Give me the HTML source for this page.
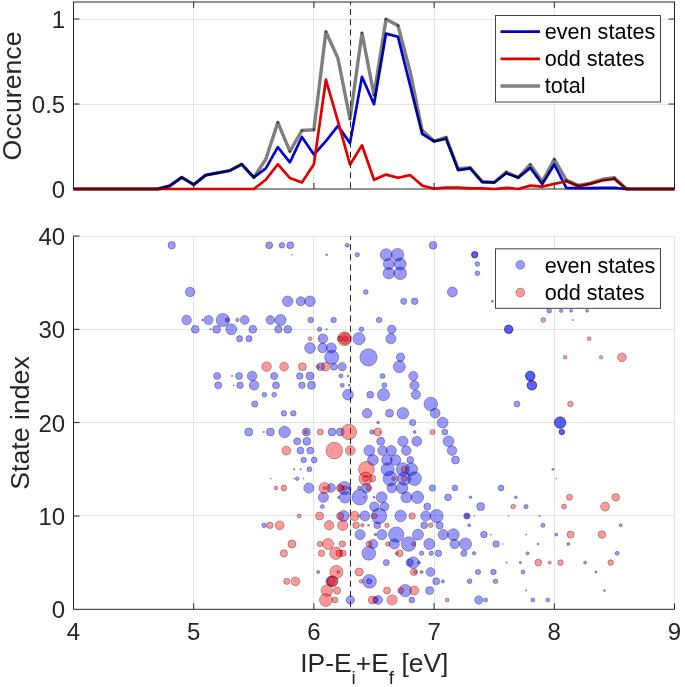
<!DOCTYPE html>
<html><head><meta charset="utf-8"><style>
html,body{margin:0;padding:0;background:#fff;}
svg{display:block;will-change:transform;}
text{font-family:"Liberation Sans",sans-serif;fill:#262626;}
.tk{font-size:24px;}
.lb{font-size:26.7px;}
.lg{font-size:21.6px;fill:#000;}
</style></head><body>
<svg width="685" height="687" viewBox="0 0 685 687">
<rect width="685" height="687" fill="#fff"/>
<line x1="193.5" y1="2.0" x2="193.5" y2="189.0" stroke="#e4e4e4" stroke-width="1"/>
<line x1="313.5" y1="2.0" x2="313.5" y2="189.0" stroke="#e4e4e4" stroke-width="1"/>
<line x1="434.5" y1="2.0" x2="434.5" y2="189.0" stroke="#e4e4e4" stroke-width="1"/>
<line x1="554.5" y1="2.0" x2="554.5" y2="189.0" stroke="#e4e4e4" stroke-width="1"/>
<line x1="73.5" y1="104.5" x2="674.5" y2="104.5" stroke="#e4e4e4" stroke-width="1"/>
<line x1="73.5" y1="19.5" x2="674.5" y2="19.5" stroke="#e4e4e4" stroke-width="1"/>
<rect x="73.5" y="2.0" width="601.0" height="187.0" fill="none" stroke="#262626" stroke-width="1"/>
<polyline points="73.5,189.0 85.5,189.0 97.5,189.0 109.6,189.0 121.6,189.0 133.6,189.0 145.6,189.0 157.6,189.0 169.7,185.9 181.7,177.3 193.7,184.6 205.7,175.1 217.7,172.8 229.8,170.6 241.8,164.3 253.8,177.3 265.8,168.4 277.8,147.2 289.9,162.3 301.9,137.0 313.9,154.5 325.9,141.1 337.9,125.9 350.0,143.1 362.0,76.8 374.0,104.2 386.0,33.6 398.0,36.8 410.1,85.3 422.1,133.8 434.1,141.4 446.1,138.7 458.1,170.1 470.2,168.3 482.2,182.2 494.2,182.5 506.2,173.2 518.2,177.6 530.3,167.9 542.3,184.1 554.3,164.5 566.3,187.8 578.3,188.2 590.4,188.2 602.4,187.8 614.4,187.8 626.4,189.0 638.4,189.0 650.5,189.0 662.5,189.0 674.5,189.0" fill="none" stroke="#0000d0" stroke-width="2.7" stroke-linejoin="round"/>
<polyline points="73.5,189.0 85.5,189.0 97.5,189.0 109.6,189.0 121.6,189.0 133.6,189.0 145.6,189.0 157.6,189.0 169.7,189.0 181.7,189.0 193.7,189.0 205.7,189.0 217.7,189.0 229.8,189.0 241.8,189.0 253.8,189.0 265.8,179.8 277.8,164.2 289.9,178.1 301.9,182.5 313.9,164.2 325.9,79.7 337.9,121.2 350.0,164.7 362.0,145.3 374.0,179.8 386.0,174.6 398.0,177.8 410.1,175.1 422.1,185.6 434.1,188.7 446.1,187.6 458.1,187.6 470.2,188.3 482.2,188.3 494.2,189.0 506.2,187.8 518.2,189.0 530.3,185.6 542.3,186.6 554.3,183.9 566.3,181.2 578.3,186.3 590.4,183.9 602.4,180.5 614.4,179.0 626.4,189.0 638.4,189.0 650.5,189.0 662.5,189.0 674.5,189.0" fill="none" stroke="#e00000" stroke-width="2.7" stroke-linejoin="round"/>
<polyline points="73.5,189.0 85.5,189.0 97.5,189.0 109.6,189.0 121.6,189.0 133.6,189.0 145.6,189.0 157.6,189.0 169.7,185.9 181.7,177.3 193.7,184.6 205.7,175.1 217.7,172.8 229.8,170.6 241.8,164.3 253.8,177.3 265.8,159.2 277.8,122.4 289.9,151.4 301.9,130.5 313.9,129.7 325.9,31.8 337.9,58.1 350.0,118.8 362.0,33.1 374.0,95.0 386.0,19.2 398.0,25.6 410.1,71.4 422.1,130.3 434.1,141.1 446.1,137.3 458.1,168.8 470.2,167.6 482.2,181.5 494.2,182.5 506.2,172.0 518.2,177.6 530.3,164.5 542.3,181.7 554.3,159.4 566.3,180.0 578.3,185.4 590.4,183.1 602.4,179.3 614.4,177.8 626.4,189.0 638.4,189.0 650.5,189.0 662.5,189.0 674.5,189.0" fill="none" stroke="#000" stroke-opacity="0.5" stroke-width="3.4" stroke-linejoin="round"/>
<circle cx="181.7" cy="177.3" r="1.36" fill="#000" fill-opacity="0.45"/>
<circle cx="193.7" cy="184.6" r="1.36" fill="#000" fill-opacity="0.45"/>
<circle cx="241.8" cy="164.3" r="1.36" fill="#000" fill-opacity="0.45"/>
<circle cx="253.8" cy="177.3" r="1.36" fill="#000" fill-opacity="0.45"/>
<circle cx="277.8" cy="122.4" r="1.36" fill="#000" fill-opacity="0.45"/>
<circle cx="289.9" cy="151.4" r="1.36" fill="#000" fill-opacity="0.45"/>
<circle cx="301.9" cy="130.5" r="1.36" fill="#000" fill-opacity="0.45"/>
<circle cx="313.9" cy="129.7" r="1.36" fill="#000" fill-opacity="0.45"/>
<circle cx="325.9" cy="31.8" r="1.36" fill="#000" fill-opacity="0.45"/>
<circle cx="350.0" cy="118.8" r="1.36" fill="#000" fill-opacity="0.45"/>
<circle cx="362.0" cy="33.1" r="1.36" fill="#000" fill-opacity="0.45"/>
<circle cx="374.0" cy="95.0" r="1.36" fill="#000" fill-opacity="0.45"/>
<circle cx="386.0" cy="19.2" r="1.36" fill="#000" fill-opacity="0.45"/>
<circle cx="398.0" cy="25.6" r="1.36" fill="#000" fill-opacity="0.45"/>
<circle cx="422.1" cy="130.3" r="1.36" fill="#000" fill-opacity="0.45"/>
<circle cx="434.1" cy="141.1" r="1.36" fill="#000" fill-opacity="0.45"/>
<circle cx="446.1" cy="137.3" r="1.36" fill="#000" fill-opacity="0.45"/>
<circle cx="458.1" cy="168.8" r="1.36" fill="#000" fill-opacity="0.45"/>
<circle cx="470.2" cy="167.6" r="1.36" fill="#000" fill-opacity="0.45"/>
<circle cx="482.2" cy="181.5" r="1.36" fill="#000" fill-opacity="0.45"/>
<circle cx="494.2" cy="182.5" r="1.36" fill="#000" fill-opacity="0.45"/>
<circle cx="506.2" cy="172.0" r="1.36" fill="#000" fill-opacity="0.45"/>
<circle cx="518.2" cy="177.6" r="1.36" fill="#000" fill-opacity="0.45"/>
<circle cx="530.3" cy="164.5" r="1.36" fill="#000" fill-opacity="0.45"/>
<circle cx="542.3" cy="181.7" r="1.36" fill="#000" fill-opacity="0.45"/>
<circle cx="554.3" cy="159.4" r="1.36" fill="#000" fill-opacity="0.45"/>
<circle cx="566.3" cy="180.0" r="1.36" fill="#000" fill-opacity="0.45"/>
<circle cx="578.3" cy="185.4" r="1.36" fill="#000" fill-opacity="0.45"/>
<circle cx="614.4" cy="177.8" r="1.36" fill="#000" fill-opacity="0.45"/>
<circle cx="626.4" cy="189.0" r="1.36" fill="#000" fill-opacity="0.45"/>
<line x1="350.5" y1="2.0" x2="350.5" y2="189.0" stroke="#262626" stroke-width="1" stroke-dasharray="6.1,4.1" stroke-dashoffset="3.2"/>
<line x1="193.7" y1="189.0" x2="193.7" y2="183.0" stroke="#262626" stroke-width="1"/>
<line x1="193.7" y1="2.0" x2="193.7" y2="8.0" stroke="#262626" stroke-width="1"/>
<line x1="313.9" y1="189.0" x2="313.9" y2="183.0" stroke="#262626" stroke-width="1"/>
<line x1="313.9" y1="2.0" x2="313.9" y2="8.0" stroke="#262626" stroke-width="1"/>
<line x1="434.1" y1="189.0" x2="434.1" y2="183.0" stroke="#262626" stroke-width="1"/>
<line x1="434.1" y1="2.0" x2="434.1" y2="8.0" stroke="#262626" stroke-width="1"/>
<line x1="554.3" y1="189.0" x2="554.3" y2="183.0" stroke="#262626" stroke-width="1"/>
<line x1="554.3" y1="2.0" x2="554.3" y2="8.0" stroke="#262626" stroke-width="1"/>
<line x1="73.5" y1="104.0" x2="79.5" y2="104.0" stroke="#262626" stroke-width="1"/>
<line x1="674.5" y1="104.0" x2="668.5" y2="104.0" stroke="#262626" stroke-width="1"/>
<line x1="73.5" y1="19.0" x2="79.5" y2="19.0" stroke="#262626" stroke-width="1"/>
<line x1="674.5" y1="19.0" x2="668.5" y2="19.0" stroke="#262626" stroke-width="1"/>
<text x="65.2" y="198.2" text-anchor="end" class="tk">0</text>
<text x="65.2" y="113.2" text-anchor="end" class="tk">0.5</text>
<text x="65.2" y="28.2" text-anchor="end" class="tk">1</text>
<text transform="translate(21.2,96) rotate(-90)" text-anchor="middle" class="lb">Occurence</text>
<rect x="495.5" y="15.5" width="165" height="86.5" fill="#fff" stroke="#444" stroke-width="1"/>
<line x1="500.5" y1="31.6" x2="540" y2="31.6" stroke="#0000d0" stroke-width="2.7"/>
<text x="544.8" y="39.4" class="lg">even states</text>
<line x1="500.5" y1="58.8" x2="540" y2="58.8" stroke="#e00000" stroke-width="2.7"/>
<text x="544.8" y="66.4" class="lg">odd states</text>
<line x1="500.5" y1="86.0" x2="540" y2="86.0" stroke="#808080" stroke-width="3.6"/>
<text x="544.8" y="93.4" class="lg">total</text>
<line x1="193.5" y1="236.0" x2="193.5" y2="609.3" stroke="#e4e4e4" stroke-width="1"/>
<line x1="313.5" y1="236.0" x2="313.5" y2="609.3" stroke="#e4e4e4" stroke-width="1"/>
<line x1="434.5" y1="236.0" x2="434.5" y2="609.3" stroke="#e4e4e4" stroke-width="1"/>
<line x1="554.5" y1="236.0" x2="554.5" y2="609.3" stroke="#e4e4e4" stroke-width="1"/>
<line x1="674.5" y1="236.0" x2="674.5" y2="609.3" stroke="#e4e4e4" stroke-width="1"/>
<line x1="73.5" y1="515.5" x2="674.5" y2="515.5" stroke="#e4e4e4" stroke-width="1"/>
<line x1="73.5" y1="422.5" x2="674.5" y2="422.5" stroke="#e4e4e4" stroke-width="1"/>
<line x1="73.5" y1="329.5" x2="674.5" y2="329.5" stroke="#e4e4e4" stroke-width="1"/>
<line x1="73.5" y1="236.5" x2="674.5" y2="236.5" stroke="#e4e4e4" stroke-width="1"/>
<line x1="350.5" y1="236.0" x2="350.5" y2="609.3" stroke="#262626" stroke-width="1" stroke-dasharray="6.1,4.1" stroke-dashoffset="2.1"/>
<g fill="#0000ff" fill-opacity="0.4" stroke="#000" stroke-opacity="0.3" stroke-width="1">
<circle cx="171.7" cy="245.3" r="3.7"/>
<circle cx="269.2" cy="245.3" r="3.5"/>
<circle cx="281.9" cy="245.3" r="2.8"/>
<circle cx="190.1" cy="292.0" r="4.8"/>
<circle cx="186.6" cy="320.0" r="4.8"/>
<circle cx="202.4" cy="320.0" r="1.2" fill="#6c6c9c" fill-opacity="0.85" stroke="none"/>
<circle cx="208.5" cy="320.0" r="4.6"/>
<circle cx="222.8" cy="320.0" r="6.6"/>
<circle cx="227.6" cy="320.0" r="2.2"/>
<circle cx="237.4" cy="320.0" r="1.8"/>
<circle cx="244.7" cy="320.0" r="4.4"/>
<circle cx="270.3" cy="320.0" r="4.4"/>
<circle cx="280.6" cy="320.0" r="5.5"/>
<circle cx="195.2" cy="329.3" r="3.9"/>
<circle cx="210.5" cy="329.3" r="1.1" fill="#6c6c9c" fill-opacity="0.85" stroke="none"/>
<circle cx="216.6" cy="329.3" r="3.9"/>
<circle cx="231.3" cy="329.3" r="5.5"/>
<circle cx="252.8" cy="329.3" r="3.9"/>
<circle cx="278.4" cy="329.3" r="3.7"/>
<circle cx="287.8" cy="329.3" r="3.9"/>
<circle cx="290.3" cy="245.3" r="3.5"/>
<circle cx="347.2" cy="245.3" r="2.0"/>
<circle cx="292.0" cy="254.7" r="0.8" fill="#6c6c9c" fill-opacity="0.85" stroke="none"/>
<circle cx="326.6" cy="254.7" r="1.3" fill="#6c6c9c" fill-opacity="0.85" stroke="none"/>
<circle cx="357.3" cy="254.7" r="2.2"/>
<circle cx="386.2" cy="254.7" r="6.0"/>
<circle cx="397.6" cy="254.7" r="6.3"/>
<circle cx="388.8" cy="264.0" r="5.5"/>
<circle cx="400.2" cy="264.0" r="6.0"/>
<circle cx="388.8" cy="273.3" r="5.7"/>
<circle cx="400.2" cy="273.3" r="6.3"/>
<circle cx="365.8" cy="292.0" r="2.4"/>
<circle cx="287.7" cy="301.3" r="5.3"/>
<circle cx="300.8" cy="301.3" r="4.6"/>
<circle cx="310.0" cy="301.3" r="5.3"/>
<circle cx="403.7" cy="301.3" r="3.1"/>
<circle cx="414.7" cy="301.3" r="3.3"/>
<circle cx="310.7" cy="320.0" r="2.8"/>
<circle cx="333.6" cy="320.0" r="2.8"/>
<circle cx="379.2" cy="320.0" r="2.8"/>
<circle cx="319.6" cy="329.3" r="2.2"/>
<circle cx="326.6" cy="329.3" r="1.1" fill="#6c6c9c" fill-opacity="0.85" stroke="none"/>
<circle cx="361.5" cy="329.3" r="2.4"/>
<circle cx="391.7" cy="329.3" r="4.2"/>
<circle cx="433.1" cy="245.3" r="3.9"/>
<circle cx="474.7" cy="254.7" r="3.3"/>
<circle cx="474.7" cy="254.7" r="3.0"/>
<circle cx="477.4" cy="264.0" r="2.4"/>
<circle cx="477.4" cy="273.3" r="2.4"/>
<circle cx="452.4" cy="292.0" r="5.0"/>
<circle cx="492.3" cy="301.3" r="1.3" fill="#6c6c9c" fill-opacity="0.85" stroke="none"/>
<circle cx="549.2" cy="310.7" r="2.4"/>
<circle cx="561.2" cy="310.7" r="1.8"/>
<circle cx="508.7" cy="329.3" r="4.4"/>
<circle cx="508.7" cy="329.3" r="4.0"/>
<circle cx="571.1" cy="310.7" r="1.5"/>
<circle cx="587.1" cy="310.7" r="1.5"/>
<circle cx="239.6" cy="338.7" r="3.1"/>
<circle cx="249.0" cy="338.7" r="3.1"/>
<circle cx="217.1" cy="376.0" r="3.5"/>
<circle cx="232.0" cy="376.0" r="0.9" fill="#6c6c9c" fill-opacity="0.85" stroke="none"/>
<circle cx="239.0" cy="376.0" r="3.5"/>
<circle cx="252.1" cy="376.0" r="4.8"/>
<circle cx="274.2" cy="376.0" r="3.5"/>
<circle cx="218.2" cy="385.3" r="3.5"/>
<circle cx="233.7" cy="385.3" r="0.9" fill="#6c6c9c" fill-opacity="0.85" stroke="none"/>
<circle cx="240.1" cy="385.3" r="3.3"/>
<circle cx="254.1" cy="385.3" r="4.8"/>
<circle cx="276.0" cy="385.3" r="3.5"/>
<circle cx="264.4" cy="394.7" r="2.4"/>
<circle cx="274.2" cy="394.7" r="2.4"/>
<circle cx="254.7" cy="404.0" r="3.1"/>
<circle cx="283.9" cy="413.3" r="2.8"/>
<circle cx="322.9" cy="338.7" r="4.8"/>
<circle cx="345.3" cy="338.7" r="3.0"/>
<circle cx="359.0" cy="338.7" r="6.1"/>
<circle cx="310.0" cy="348.0" r="5.4"/>
<circle cx="322.6" cy="348.0" r="4.8"/>
<circle cx="331.3" cy="348.0" r="5.1"/>
<circle cx="331.7" cy="357.3" r="7.0"/>
<circle cx="368.5" cy="357.3" r="8.6"/>
<circle cx="320.8" cy="366.7" r="3.9"/>
<circle cx="334.0" cy="366.7" r="3.5"/>
<circle cx="342.2" cy="366.7" r="4.2"/>
<circle cx="299.8" cy="376.0" r="3.3"/>
<circle cx="310.1" cy="376.0" r="4.0"/>
<circle cx="341.0" cy="376.0" r="2.1"/>
<circle cx="348.0" cy="376.0" r="1.2" fill="#6c6c9c" fill-opacity="0.85" stroke="none"/>
<circle cx="382.5" cy="376.0" r="2.5"/>
<circle cx="301.9" cy="385.3" r="3.3"/>
<circle cx="311.5" cy="385.3" r="4.0"/>
<circle cx="342.2" cy="385.3" r="2.1"/>
<circle cx="349.2" cy="385.3" r="1.2" fill="#6c6c9c" fill-opacity="0.85" stroke="none"/>
<circle cx="384.4" cy="385.3" r="2.5"/>
<circle cx="348.0" cy="394.7" r="5.4"/>
<circle cx="370.2" cy="394.7" r="3.5"/>
<circle cx="383.5" cy="394.7" r="6.1"/>
<circle cx="390.9" cy="338.7" r="5.1"/>
<circle cx="400.5" cy="357.3" r="4.2"/>
<circle cx="399.3" cy="366.7" r="6.0"/>
<circle cx="413.3" cy="376.0" r="4.6"/>
<circle cx="414.5" cy="385.3" r="4.6"/>
<circle cx="415.9" cy="394.7" r="4.6"/>
<circle cx="430.8" cy="404.0" r="6.8"/>
<circle cx="530.2" cy="376.0" r="4.9"/>
<circle cx="530.2" cy="376.0" r="4.6"/>
<circle cx="531.9" cy="385.3" r="4.9"/>
<circle cx="531.9" cy="385.3" r="4.6"/>
<circle cx="516.9" cy="404.0" r="3.0"/>
<circle cx="560.1" cy="422.6" r="5.8"/>
<circle cx="560.1" cy="422.6" r="5.5"/>
<circle cx="561.8" cy="432.0" r="2.8"/>
<circle cx="561.8" cy="432.0" r="2.6"/>
<circle cx="293.3" cy="413.3" r="2.8"/>
<circle cx="248.7" cy="432.0" r="4.0"/>
<circle cx="263.7" cy="432.0" r="1.1" fill="#6c6c9c" fill-opacity="0.85" stroke="none"/>
<circle cx="270.4" cy="432.0" r="4.0"/>
<circle cx="284.6" cy="432.0" r="5.8"/>
<circle cx="294.2" cy="469.3" r="1.1" fill="#6c6c9c" fill-opacity="0.85" stroke="none"/>
<circle cx="367.1" cy="413.3" r="4.8"/>
<circle cx="389.5" cy="413.3" r="4.0"/>
<circle cx="378.1" cy="422.6" r="1.4"/>
<circle cx="306.3" cy="432.0" r="4.0"/>
<circle cx="332.0" cy="432.0" r="3.9"/>
<circle cx="340.4" cy="432.0" r="4.0"/>
<circle cx="372.0" cy="432.0" r="2.3"/>
<circle cx="297.2" cy="441.3" r="3.5"/>
<circle cx="306.8" cy="441.3" r="3.9"/>
<circle cx="380.7" cy="441.3" r="4.0"/>
<circle cx="300.5" cy="450.6" r="3.5"/>
<circle cx="310.3" cy="450.6" r="3.5"/>
<circle cx="369.3" cy="450.6" r="5.4"/>
<circle cx="382.5" cy="450.6" r="4.8"/>
<circle cx="391.2" cy="450.6" r="5.1"/>
<circle cx="303.7" cy="460.0" r="2.8"/>
<circle cx="314.2" cy="460.0" r="3.0"/>
<circle cx="372.9" cy="460.0" r="5.4"/>
<circle cx="386.9" cy="460.0" r="5.3"/>
<circle cx="395.6" cy="460.0" r="5.3"/>
<circle cx="300.7" cy="469.3" r="1.1" fill="#6c6c9c" fill-opacity="0.85" stroke="none"/>
<circle cx="309.4" cy="469.3" r="2.5"/>
<circle cx="387.7" cy="469.3" r="6.6"/>
<circle cx="402.9" cy="413.3" r="5.8"/>
<circle cx="435.2" cy="413.3" r="4.9"/>
<circle cx="412.7" cy="422.6" r="3.2"/>
<circle cx="442.7" cy="422.6" r="5.4"/>
<circle cx="414.7" cy="432.0" r="1.4"/>
<circle cx="444.8" cy="432.0" r="3.0"/>
<circle cx="402.9" cy="441.3" r="5.1"/>
<circle cx="416.8" cy="441.3" r="4.9"/>
<circle cx="448.5" cy="441.3" r="5.4"/>
<circle cx="406.3" cy="450.6" r="4.8"/>
<circle cx="452.0" cy="450.6" r="4.8"/>
<circle cx="410.3" cy="460.0" r="3.5"/>
<circle cx="455.5" cy="460.0" r="4.0"/>
<circle cx="390.4" cy="478.6" r="7.3"/>
<circle cx="404.2" cy="478.6" r="6.6"/>
<circle cx="414.5" cy="478.6" r="6.9"/>
<circle cx="344.4" cy="488.0" r="6.6"/>
<circle cx="349.5" cy="488.0" r="1.5"/>
<circle cx="359.4" cy="488.0" r="1.9"/>
<circle cx="366.3" cy="488.0" r="4.8"/>
<circle cx="391.8" cy="488.0" r="4.8"/>
<circle cx="402.0" cy="488.0" r="5.8"/>
<circle cx="432.4" cy="488.0" r="3.2"/>
<circle cx="345.1" cy="497.3" r="5.8"/>
<circle cx="359.7" cy="497.3" r="7.7"/>
<circle cx="364.1" cy="497.3" r="1.2" fill="#6c6c9c" fill-opacity="0.85" stroke="none"/>
<circle cx="374.0" cy="497.3" r="1.2" fill="#6c6c9c" fill-opacity="0.85" stroke="none"/>
<circle cx="381.6" cy="497.3" r="5.5"/>
<circle cx="406.4" cy="497.3" r="5.5"/>
<circle cx="417.4" cy="497.3" r="6.2"/>
<circle cx="374.3" cy="506.6" r="4.7"/>
<circle cx="384.5" cy="506.6" r="4.4"/>
<circle cx="427.3" cy="506.6" r="3.5"/>
<circle cx="293.9" cy="478.6" r="0.8" fill="#6c6c9c" fill-opacity="0.85" stroke="none"/>
<circle cx="297.2" cy="478.6" r="1.9"/>
<circle cx="303.6" cy="478.6" r="0.8" fill="#6c6c9c" fill-opacity="0.85" stroke="none"/>
<circle cx="308.8" cy="488.0" r="5.1"/>
<circle cx="331.1" cy="488.0" r="4.4"/>
<circle cx="323.4" cy="497.3" r="5.1"/>
<circle cx="338.7" cy="497.3" r="1.5" fill="#6c6c9c" fill-opacity="0.85" stroke="none"/>
<circle cx="322.3" cy="506.6" r="2.0"/>
<circle cx="270.9" cy="478.6" r="0.8" fill="#6c6c9c" fill-opacity="0.85" stroke="none"/>
<circle cx="264.1" cy="525.3" r="2.4"/>
<circle cx="343.7" cy="516.0" r="5.5"/>
<circle cx="364.9" cy="516.0" r="5.1"/>
<circle cx="368.5" cy="525.3" r="1.2" fill="#6c6c9c" fill-opacity="0.85" stroke="none"/>
<circle cx="360.1" cy="534.6" r="5.1"/>
<circle cx="318.2" cy="572.0" r="1.6"/>
<circle cx="350.3" cy="600.0" r="4.2"/>
<circle cx="379.0" cy="516.0" r="7.7"/>
<circle cx="400.6" cy="516.0" r="5.8"/>
<circle cx="425.7" cy="516.0" r="5.1"/>
<circle cx="436.6" cy="516.0" r="6.6"/>
<circle cx="377.2" cy="525.3" r="3.4"/>
<circle cx="424.2" cy="525.3" r="3.4"/>
<circle cx="439.6" cy="525.3" r="3.6"/>
<circle cx="375.3" cy="534.6" r="1.5" fill="#6c6c9c" fill-opacity="0.85" stroke="none"/>
<circle cx="381.9" cy="534.6" r="5.1"/>
<circle cx="396.2" cy="534.6" r="7.7"/>
<circle cx="418.0" cy="534.6" r="5.5"/>
<circle cx="443.2" cy="534.6" r="5.1"/>
<circle cx="453.4" cy="534.6" r="5.8"/>
<circle cx="373.1" cy="544.0" r="4.5"/>
<circle cx="394.3" cy="544.0" r="5.1"/>
<circle cx="408.6" cy="544.0" r="7.3"/>
<circle cx="429.3" cy="544.0" r="5.5"/>
<circle cx="454.6" cy="544.0" r="4.7"/>
<circle cx="368.8" cy="553.3" r="6.9"/>
<circle cx="421.6" cy="553.3" r="2.2"/>
<circle cx="431.2" cy="553.3" r="2.2"/>
<circle cx="438.4" cy="553.3" r="3.2"/>
<circle cx="386.3" cy="562.6" r="3.1"/>
<circle cx="409.6" cy="562.6" r="3.6"/>
<circle cx="413.3" cy="562.6" r="5.8"/>
<circle cx="419.1" cy="562.6" r="1.5"/>
<circle cx="421.6" cy="572.0" r="1.6"/>
<circle cx="430.5" cy="572.0" r="4.4"/>
<circle cx="369.5" cy="581.3" r="6.9"/>
<circle cx="369.2" cy="581.3" r="2.6"/>
<circle cx="436.2" cy="581.3" r="3.5"/>
<circle cx="442.8" cy="581.3" r="1.6"/>
<circle cx="405.3" cy="590.6" r="6.2"/>
<circle cx="429.6" cy="590.6" r="4.0"/>
<circle cx="375.3" cy="600.0" r="2.9"/>
<circle cx="378.2" cy="600.0" r="4.4"/>
<circle cx="411.8" cy="600.0" r="2.9"/>
<circle cx="454.9" cy="488.0" r="2.9"/>
<circle cx="501.1" cy="488.0" r="2.9"/>
<circle cx="448.0" cy="497.3" r="3.4"/>
<circle cx="470.5" cy="497.3" r="1.4"/>
<circle cx="515.9" cy="497.3" r="1.4"/>
<circle cx="480.7" cy="506.6" r="4.0"/>
<circle cx="526.0" cy="506.6" r="2.2"/>
<circle cx="466.9" cy="516.0" r="3.2"/>
<circle cx="474.5" cy="516.0" r="0.8" fill="#6c6c9c" fill-opacity="0.85" stroke="none"/>
<circle cx="508.7" cy="516.0" r="0.8" fill="#6c6c9c" fill-opacity="0.85" stroke="none"/>
<circle cx="539.6" cy="516.0" r="1.0" fill="#6c6c9c" fill-opacity="0.85" stroke="none"/>
<circle cx="469.2" cy="525.3" r="1.5"/>
<circle cx="542.9" cy="525.3" r="2.1"/>
<circle cx="483.9" cy="534.6" r="3.3"/>
<circle cx="490.7" cy="534.6" r="0.8" fill="#6c6c9c" fill-opacity="0.85" stroke="none"/>
<circle cx="526.1" cy="534.6" r="0.9" fill="#6c6c9c" fill-opacity="0.85" stroke="none"/>
<circle cx="556.3" cy="534.6" r="1.5"/>
<circle cx="465.5" cy="544.0" r="6.1"/>
<circle cx="496.1" cy="544.0" r="3.3"/>
<circle cx="503.0" cy="544.0" r="0.8" fill="#6c6c9c" fill-opacity="0.85" stroke="none"/>
<circle cx="538.0" cy="544.0" r="1.2" fill="#6c6c9c" fill-opacity="0.85" stroke="none"/>
<circle cx="463.9" cy="553.3" r="3.1"/>
<circle cx="474.1" cy="553.3" r="1.8"/>
<circle cx="527.6" cy="553.3" r="1.6"/>
<circle cx="506.7" cy="562.6" r="1.0" fill="#6c6c9c" fill-opacity="0.85" stroke="none"/>
<circle cx="520.4" cy="562.6" r="1.5" fill="#6c6c9c" fill-opacity="0.85" stroke="none"/>
<circle cx="478.0" cy="572.0" r="2.6"/>
<circle cx="493.5" cy="572.0" r="2.8"/>
<circle cx="523.0" cy="572.0" r="2.0"/>
<circle cx="469.6" cy="581.3" r="2.4"/>
<circle cx="495.5" cy="581.3" r="2.4"/>
<circle cx="526.1" cy="590.6" r="1.0" fill="#6c6c9c" fill-opacity="0.85" stroke="none"/>
<circle cx="478.8" cy="600.0" r="4.2"/>
<circle cx="485.7" cy="600.0" r="2.0"/>
<circle cx="532.8" cy="600.0" r="2.1"/>
<circle cx="547.8" cy="600.0" r="2.1"/>
<circle cx="553.0" cy="469.3" r="1.4" fill="#6c6c9c" fill-opacity="0.85" stroke="none"/>
<circle cx="556.3" cy="478.6" r="0.8" fill="#6c6c9c" fill-opacity="0.85" stroke="none"/>
<circle cx="620.7" cy="525.3" r="1.5"/>
<circle cx="568.3" cy="544.0" r="1.5"/>
<circle cx="617.2" cy="553.3" r="2.0"/>
<circle cx="585.1" cy="562.6" r="1.5"/>
<circle cx="595.9" cy="572.0" r="1.4" fill="#6c6c9c" fill-opacity="0.85" stroke="none"/>
<circle cx="604.4" cy="590.6" r="1.4" fill="#6c6c9c" fill-opacity="0.85" stroke="none"/>
<circle cx="330.5" cy="581.3" r="4.8"/>
<circle cx="402.8" cy="469.3" r="6.6"/>
<circle cx="411.5" cy="469.3" r="6.1"/>
<circle cx="466.9" cy="516.0" r="2.2"/>
</g>
<g fill="#ff0000" fill-opacity="0.4" stroke="#000" stroke-opacity="0.3" stroke-width="1">
<circle cx="543.3" cy="320.0" r="2.4"/>
<circle cx="572.9" cy="320.0" r="1.1" fill="#a87070" fill-opacity="0.85" stroke="none"/>
<circle cx="589.1" cy="338.7" r="2.0"/>
<circle cx="565.2" cy="357.3" r="1.8"/>
<circle cx="601.1" cy="357.3" r="1.8"/>
<circle cx="621.9" cy="357.3" r="4.4"/>
<circle cx="266.6" cy="366.7" r="4.8"/>
<circle cx="284.1" cy="366.7" r="4.4"/>
<circle cx="310.0" cy="338.7" r="1.9"/>
<circle cx="319.0" cy="338.7" r="1.1" fill="#a87070" fill-opacity="0.85" stroke="none"/>
<circle cx="344.5" cy="338.7" r="7.0"/>
<circle cx="340.0" cy="338.7" r="2.6"/>
<circle cx="302.4" cy="366.7" r="3.9"/>
<circle cx="317.7" cy="366.7" r="1.8"/>
<circle cx="325.7" cy="366.7" r="4.4"/>
<circle cx="570.4" cy="404.0" r="2.8"/>
<circle cx="286.3" cy="450.6" r="4.4"/>
<circle cx="305.8" cy="432.0" r="1.8"/>
<circle cx="320.3" cy="432.0" r="3.0"/>
<circle cx="348.9" cy="432.0" r="7.7"/>
<circle cx="377.8" cy="432.0" r="4.0"/>
<circle cx="379.9" cy="432.0" r="1.1" fill="#a87070" fill-opacity="0.85" stroke="none"/>
<circle cx="334.3" cy="450.6" r="8.3"/>
<circle cx="350.4" cy="450.6" r="4.8"/>
<circle cx="366.4" cy="469.3" r="7.9"/>
<circle cx="432.5" cy="432.0" r="2.6"/>
<circle cx="404.2" cy="469.3" r="2.9"/>
<circle cx="365.5" cy="478.6" r="6.6"/>
<circle cx="365.5" cy="478.6" r="2.9"/>
<circle cx="372.4" cy="478.6" r="3.4"/>
<circle cx="393.6" cy="478.6" r="1.9"/>
<circle cx="404.2" cy="478.6" r="2.6"/>
<circle cx="342.2" cy="488.0" r="2.2"/>
<circle cx="345.1" cy="488.0" r="2.2"/>
<circle cx="368.9" cy="488.0" r="2.6"/>
<circle cx="283.9" cy="488.0" r="2.9"/>
<circle cx="324.5" cy="488.0" r="5.5"/>
<circle cx="324.5" cy="488.0" r="1.4"/>
<circle cx="339.9" cy="488.0" r="3.4"/>
<circle cx="276.0" cy="488.0" r="1.9"/>
<circle cx="269.9" cy="525.3" r="3.2"/>
<circle cx="279.6" cy="525.3" r="4.4"/>
<circle cx="299.2" cy="516.0" r="2.0"/>
<circle cx="319.6" cy="516.0" r="4.0"/>
<circle cx="340.1" cy="516.0" r="3.6"/>
<circle cx="354.7" cy="516.0" r="4.7"/>
<circle cx="358.3" cy="516.0" r="1.4" fill="#a87070" fill-opacity="0.85" stroke="none"/>
<circle cx="329.1" cy="525.3" r="4.7"/>
<circle cx="342.7" cy="525.3" r="5.1"/>
<circle cx="356.1" cy="525.3" r="3.3"/>
<circle cx="362.4" cy="525.3" r="1.8"/>
<circle cx="291.9" cy="544.0" r="4.0"/>
<circle cx="320.1" cy="544.0" r="2.8"/>
<circle cx="328.1" cy="544.0" r="5.5"/>
<circle cx="342.3" cy="544.0" r="3.2"/>
<circle cx="283.9" cy="553.3" r="3.6"/>
<circle cx="321.5" cy="553.3" r="3.2"/>
<circle cx="336.0" cy="553.3" r="6.2"/>
<circle cx="339.3" cy="553.3" r="3.3"/>
<circle cx="343.0" cy="553.3" r="3.2"/>
<circle cx="336.4" cy="572.0" r="6.6"/>
<circle cx="338.3" cy="572.0" r="1.5"/>
<circle cx="359.1" cy="572.0" r="4.0"/>
<circle cx="286.8" cy="581.3" r="3.1"/>
<circle cx="295.5" cy="581.3" r="4.4"/>
<circle cx="332.5" cy="581.3" r="5.5"/>
<circle cx="332.5" cy="581.3" r="5.0"/>
<circle cx="361.2" cy="581.3" r="1.9"/>
<circle cx="326.9" cy="590.6" r="5.8"/>
<circle cx="337.2" cy="590.6" r="3.6"/>
<circle cx="325.9" cy="600.0" r="6.4"/>
<circle cx="335.0" cy="600.0" r="2.9"/>
<circle cx="374.6" cy="516.0" r="2.6"/>
<circle cx="412.1" cy="516.0" r="3.2"/>
<circle cx="387.0" cy="525.3" r="2.2"/>
<circle cx="430.8" cy="525.3" r="2.3"/>
<circle cx="369.0" cy="544.0" r="2.9"/>
<circle cx="387.7" cy="544.0" r="2.2"/>
<circle cx="413.6" cy="544.0" r="1.9"/>
<circle cx="399.7" cy="553.3" r="3.4"/>
<circle cx="396.8" cy="553.3" r="1.5"/>
<circle cx="414.0" cy="572.0" r="3.6"/>
<circle cx="415.2" cy="572.0" r="1.6"/>
<circle cx="387.0" cy="590.6" r="3.5"/>
<circle cx="400.6" cy="590.6" r="2.9"/>
<circle cx="414.3" cy="590.6" r="4.5"/>
<circle cx="372.4" cy="600.0" r="4.0"/>
<circle cx="392.1" cy="600.0" r="5.1"/>
<circle cx="447.2" cy="600.0" r="2.0"/>
<circle cx="513.2" cy="506.6" r="2.4"/>
<circle cx="538.3" cy="562.6" r="3.4"/>
<circle cx="549.7" cy="562.6" r="1.6"/>
<circle cx="569.5" cy="497.3" r="3.0"/>
<circle cx="615.7" cy="497.3" r="3.8"/>
<circle cx="564.0" cy="506.6" r="2.5"/>
<circle cx="605.1" cy="506.6" r="4.5"/>
<circle cx="570.6" cy="534.6" r="3.5"/>
<circle cx="601.9" cy="534.6" r="3.8"/>
<circle cx="560.5" cy="562.6" r="2.8"/>
<circle cx="610.7" cy="562.6" r="2.8"/>
<circle cx="345.0" cy="338.7" r="5.6"/>
</g>
<line x1="73.5" y1="236.0" x2="73.5" y2="609.3" stroke="#262626" stroke-width="1"/>
<line x1="73.5" y1="609.3" x2="674.5" y2="609.3" stroke="#262626" stroke-width="1"/>
<line x1="193.7" y1="609.3" x2="193.7" y2="603.3" stroke="#262626" stroke-width="1"/>
<line x1="313.9" y1="609.3" x2="313.9" y2="603.3" stroke="#262626" stroke-width="1"/>
<line x1="434.1" y1="609.3" x2="434.1" y2="603.3" stroke="#262626" stroke-width="1"/>
<line x1="554.3" y1="609.3" x2="554.3" y2="603.3" stroke="#262626" stroke-width="1"/>
<line x1="674.5" y1="609.3" x2="674.5" y2="603.3" stroke="#262626" stroke-width="1"/>
<line x1="73.5" y1="516.0" x2="79.5" y2="516.0" stroke="#262626" stroke-width="1"/>
<line x1="73.5" y1="422.6" x2="79.5" y2="422.6" stroke="#262626" stroke-width="1"/>
<line x1="73.5" y1="329.3" x2="79.5" y2="329.3" stroke="#262626" stroke-width="1"/>
<line x1="73.5" y1="236.0" x2="79.5" y2="236.0" stroke="#262626" stroke-width="1"/>
<text x="65.2" y="618.3" text-anchor="end" class="tk">0</text>
<text x="65.2" y="525.0" text-anchor="end" class="tk">10</text>
<text x="65.2" y="431.6" text-anchor="end" class="tk">20</text>
<text x="65.2" y="338.3" text-anchor="end" class="tk">30</text>
<text x="65.2" y="245.0" text-anchor="end" class="tk">40</text>
<text x="73.5" y="640" text-anchor="middle" class="tk">4</text>
<text x="193.7" y="640" text-anchor="middle" class="tk">5</text>
<text x="313.9" y="640" text-anchor="middle" class="tk">6</text>
<text x="434.1" y="640" text-anchor="middle" class="tk">7</text>
<text x="554.3" y="640" text-anchor="middle" class="tk">8</text>
<text x="674.5" y="640" text-anchor="middle" class="tk">9</text>
<text x="374.3" y="671.8" text-anchor="middle" class="lb" style="font-size:26.4px">IP-E<tspan dy="12.3" font-size="19">i</tspan><tspan dy="-12.3">+E</tspan><tspan dy="12.3" font-size="19">f</tspan><tspan dy="-12.3"> [eV]</tspan></text>
<text transform="translate(28.5,423) rotate(-90)" text-anchor="middle" class="lb">State index</text>
<rect x="495.5" y="248.8" width="165" height="59.5" fill="#fff" stroke="#444" stroke-width="1"/>
<circle cx="520.3" cy="264.8" r="4.4" fill="#0000ff" fill-opacity="0.4" stroke="#000" stroke-opacity="0.3" stroke-width="1"/>
<circle cx="520.3" cy="292.6" r="4.4" fill="#ff0000" fill-opacity="0.4" stroke="#000" stroke-opacity="0.3" stroke-width="1"/>
<text x="544.8" y="272.6" class="lg">even states</text>
<text x="544.8" y="300.2" class="lg">odd states</text>

</svg>
</body></html>
